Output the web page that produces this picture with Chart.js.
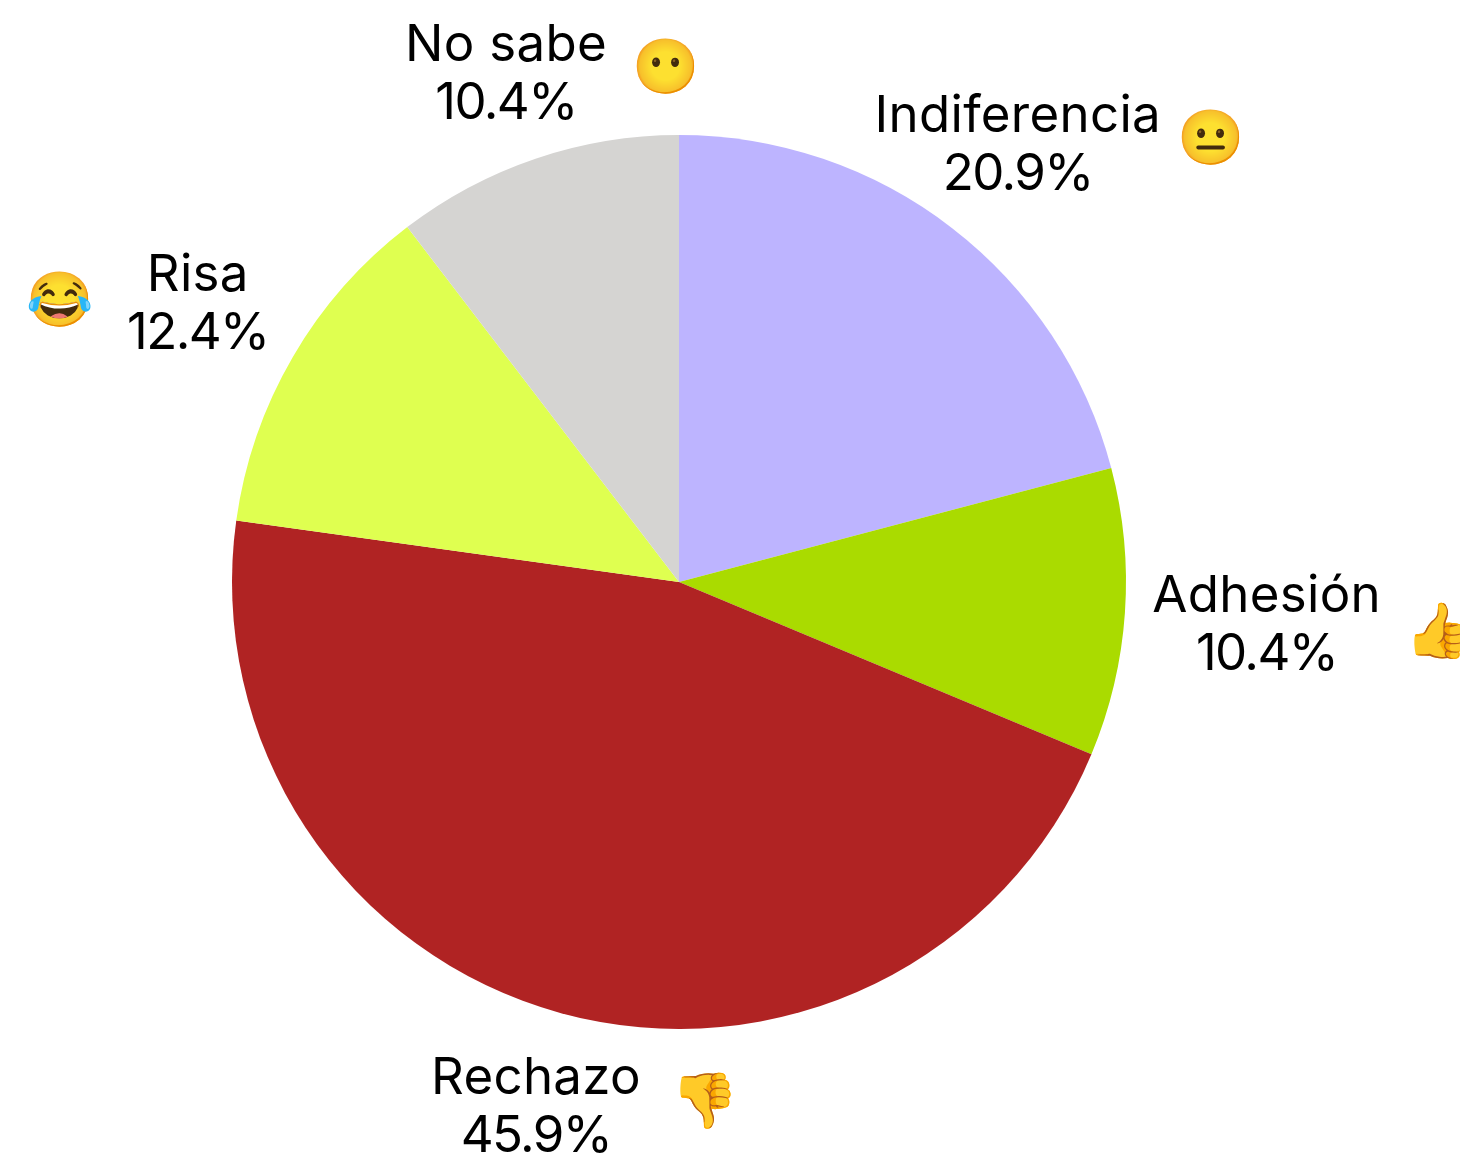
<!DOCTYPE html>
<html><head><meta charset="utf-8">
<style>html,body{margin:0;padding:0;background:#fff;overflow:hidden}canvas{display:block}</style>
<script src="https://cdn.jsdelivr.net/npm/chart.js@4/dist/chart.umd.min.js"></script>
</head><body><canvas id="c" width="1460" height="1156"></canvas>
<script>
const categories = ["Indiferencia","Adhesión","Rechazo","Risa","No sabe"];
const shares = [20.9,10.4,45.9,12.4,10.4];
const emojis = ["😐","👍","👎","😂","😶"];
const colors = ["#BDB4FF","#AADB00","#B02323","#DFFF50","#D5D4D2"];
const labelRadius = [555,589,542,557,539];
const emojiOffsetX = [193,172,169,-138,159];
const emojiOffsetY = [-6,7,-5,-3,-6];
const labelPlugin = {
  id:'labels',
  afterDatasetsDraw(chart){
    const ctx = chart.ctx, arcs = chart.getDatasetMeta(0).data;
    ctx.save();
    ctx.textAlign='center'; ctx.textBaseline='middle'; ctx.fillStyle='#000';
    arcs.forEach((arc,i)=>{
      const mid=(arc.startAngle+arc.endAngle)/2;
      const x=arc.x+labelRadius[i]*Math.cos(mid), y=arc.y+labelRadius[i]*Math.sin(mid);
      ctx.fillStyle='#000';
      ctx.font='400 51px Inter';
      ctx.letterSpacing='0.3px';
      ctx.fillText(categories[i],x,y-26);
      ctx.letterSpacing='-1.6px';
      ctx.fillText(shares[i].toFixed(1)+'%',x,y+32);
      ctx.letterSpacing='0px';
      ctx.font='54px "Noto Sans"';
      ctx.fillText(emojis[i],x+emojiOffsetX[i],y+emojiOffsetY[i]+4);
    });
    ctx.restore();
  }
};
new Chart(document.getElementById('c'),{
  type:'pie',
  data:{labels:categories,datasets:[{data:shares,backgroundColor:colors,borderWidth:0,hoverOffset:0}]},
  options:{responsive:false,animation:false,
    layout:{padding:{left:232,right:334,top:135,bottom:127}},
    plugins:{legend:{display:false},tooltip:{enabled:false}}},
  plugins:[labelPlugin]
});
</script></body></html>
